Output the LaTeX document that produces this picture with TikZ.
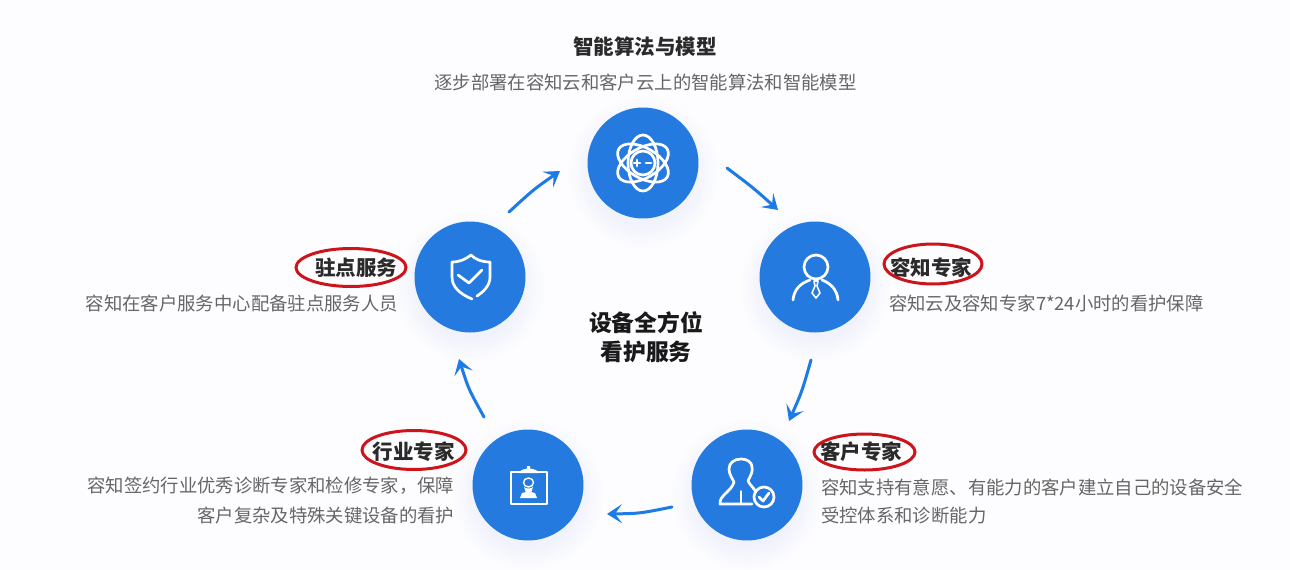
\documentclass[tikz,border=0pt]{standalone}
\usepackage{fontspec}
\setmainfont{Noto Sans CJK SC}
\usetikzlibrary{arrows.meta,calc,shapes.geometric}
\definecolor{disc}{HTML}{257ADF}
\definecolor{arrowblue}{HTML}{1C7BE6}
\definecolor{bodytxt}{HTML}{666666}
\definecolor{headtxt}{HTML}{2A2A2A}
\definecolor{redring}{HTML}{CE141B}
\definecolor{pagebg}{HTML}{FDFDFF}
\definecolor{shadowblue}{HTML}{3F55C8}
\tikzset{
  x=1pt,y=-1pt,
  hub/.style={circle,fill=disc,minimum size=111pt,inner sep=0pt},
  flow/.style={draw=arrowblue,line width=3pt,line cap=round,-{Stealth[length=15pt,width=19pt,inset=7pt]}},
  head/.style={font=\fontsize{20.5}{24}\selectfont\bfseries,text=headtxt,inner sep=0pt},
  body/.style={font=\fontsize{18.35}{22}\selectfont,text=bodytxt,inner sep=0pt},
  centre/.style={font=\fontsize{22.8}{26}\selectfont\bfseries,text=black!90,inner sep=0pt},
  ring/.style={draw=redring,line width=3pt,ellipse,inner sep=0pt},
  glyph/.style={draw=white,line width=2.7pt,line cap=round,line join=round},
}
\newcommand{\softshadow}[2]{%
  \foreach \r/\p in {74/1,70/2,66/3,62/4,58/5,54/6}{\fill[shadowblue!\p!pagebg] (#1,#2+10) circle[radius=\r];}}
\begin{document}
\begin{tikzpicture}
\useasboundingbox (0,0) rectangle (1290,570);
\fill[pagebg] (0,0) rectangle (1290,570);
\softshadow{643}{163}\softshadow{815}{277}\softshadow{747}{485}\softshadow{528}{485}\softshadow{470}{277}
\node[hub] (algo) at (643,163) {};
\node[hub] (expert) at (815,277) {};
\node[hub] (client) at (747,485) {};
\node[hub] (industry) at (528,485) {};
\node[hub] (onsite) at (470,277) {};
% connectors
\coordinate (a1s) at ([shift={(84,5)}]algo.center);
\coordinate (a1e) at ([shift={(-37,-67)}]expert.center);
\coordinate (a2s) at ([shift={(-4,83)}]expert.center);
\coordinate (a2e) at ([shift={(42,-64)}]client.center);
\coordinate (a3s) at ([shift={(-75,22)}]client.center);
\coordinate (a3e) at ([shift={(79,29)}]industry.center);
\coordinate (a4s) at ([shift={(-44,-68)}]industry.center);
\coordinate (a4e) at ([shift={(-11,82)}]onsite.center);
\coordinate (a5s) at ([shift={(39,-65)}]onsite.center);
\coordinate (a5e) at ([shift={(-83,8)}]algo.center);
\draw[flow] (a1s) .. controls ($(a1s)!0.5!(a1e)+(1,-1)$) .. (a1e);
\draw[flow] (a2s) .. controls ($(a2s)!0.5!(a2e)+(2,1)$) .. (a2e);
\draw[flow] (a3s) .. controls ($(a3s)!0.5!(a3e)+(0,3)$) .. (a3e);
\draw[flow] (a4s) .. controls ($(a4s)!0.5!(a4e)+(-3,1)$) .. (a4e);
\draw[flow] (a5s) .. controls ($(a5s)!0.5!(a5e)+(-1,-2)$) .. (a5e);
% atom icon
\begin{scope}[shift={(algo.center)},glyph]
  \draw (0,0) ellipse[x radius=15,y radius=28];
  \draw[rotate=60] (0,0) ellipse[x radius=15,y radius=28];
  \draw[rotate=-60] (0,0) ellipse[x radius=15,y radius=28];
  \draw (0,0) circle[radius=12];
  \draw (-9,0) -- (-3,0) (-6,-3) -- (-6,3) (3,0) -- (8,0);
\end{scope}
% person with tie
\begin{scope}[shift={(expert.center)},glyph]
  \draw (1,-10) circle[radius=12];
  \draw (-22,23) .. controls (-21,12) and (-14,6) .. (-5,3);
  \draw (23,23) .. controls (22,12) and (15,6) .. (7,3);
  \draw[line width=1.6pt] (-1,4) -- (3,4) -- (2,9) -- (5,16) -- (1,21) -- (-3,16) -- (0,9) -- cycle;
\end{scope}
% shield
\begin{scope}[shift={(onsite.center)},glyph]
  \draw (7,19) .. controls (13,15) and (20,9) .. (20,0) -- (20,-15) .. controls (11,-15) and (5,-18) .. (1,-22) .. controls (-4,-18) and (-10,-15) .. (-18,-15) -- (-18,0) .. controls (-18,10) and (-10,17) .. (2,22);
  \draw (-12,-2) -- (-1,6) -- (12,-7);
\end{scope}
% clipboard
\begin{scope}[shift={(industry.center)}]
  \draw[glyph,line width=2pt,line cap=butt] (-17,-13) rectangle (19,19);
  \fill[white] (-9,-12) .. controls (-8,-15) and (-4,-16) .. (-1,-16.5) -- (-1,-19) -- (2,-19) -- (2,-16.5) .. controls (5,-16) and (10,-15) .. (11,-12) -- cycle;
  \draw[glyph,line width=1.4pt] (0.5,-2.5) ellipse[x radius=5,y radius=4.5];
  \fill[white] (-4,2) .. controls (-2,4) and (3,4) .. (5,2) -- (3,8) -- (-2,8) -- cycle;
  \fill[white] (-6,8) -- (-2,7) -- (3,7) -- (7,8) -- (9,13) -- (-8,13) -- cycle;
\end{scope}
% client with check
\begin{scope}[shift={(client.center)},glyph]
  \draw (9,7) .. controls (6,2) and (3,0) .. (1,-4) .. controls (4,-10) and (6,-14) .. (5,-18) .. controls (5,-23) and (0,-26) .. (-6,-26) .. controls (-13,-26) and (-18,-22) .. (-18,-16) .. controls (-18,-11) and (-15,-7) .. (-13,-3) .. controls (-14,2) and (-19,6) .. (-23,10) .. controls (-25,12) and (-27,14) .. (-27,19) -- (5,19);
  \draw[line width=1.5pt] (-6,6) -- (-6,18);
  \draw (17,12) circle[radius=10];
  \draw (12,12) -- (16,16) -- (22,8);
\end{scope}
% texts
\node[head] (t1) at (645,47) {智能算法与模型};
\node[body] (t2) at (645.5,82) {逐步部署在容知云和客户云上的智能算法和智能模型};
\node[head,anchor=east] (t3) at (397.5,268) {驻点服务};
\node[body,anchor=east] (t4) at (398,303) {容知在客户服务中心配备驻点服务人员};
\node[head,anchor=west] (t5) at (890,268) {容知专家};
\node[body,anchor=west] (t6) at (889,303) {容知云及容知专家7*24小时的看护保障};
\node[head,anchor=east] (t7) at (455,452) {行业专家};
\node[body,anchor=east] (t8) at (454.5,486) {容知签约行业优秀诊断专家和检修专家，保障};
\node[body,anchor=east] (t9) at (454.5,515) {客户复杂及特殊关键设备的看护};
\node[head,anchor=west] (t10) at (820,452) {客户专家};
\node[body,anchor=west] (t11) at (821,487) {容知支持有意愿、有能力的客户建立自己的设备安全};
\node[body,anchor=west] (t12) at (821,516) {受控体系和诊断能力};
\node[centre] (t13) at (646,323) {设备全方位};
\node[centre] (t14) at (646,352) {看护服务};
% red rings
\node[ring,minimum width=110pt,minimum height=38pt] (r1) at (351,267.5) {};
\node[ring,minimum width=98pt,minimum height=40pt] (r2) at (933,264) {};
\node[ring,minimum width=101pt,minimum height=36pt] (r3) at (864.5,452) {};
\node[ring,minimum width=104pt,minimum height=39pt] (r4) at (414,450) {};
\end{tikzpicture}
\end{document}
